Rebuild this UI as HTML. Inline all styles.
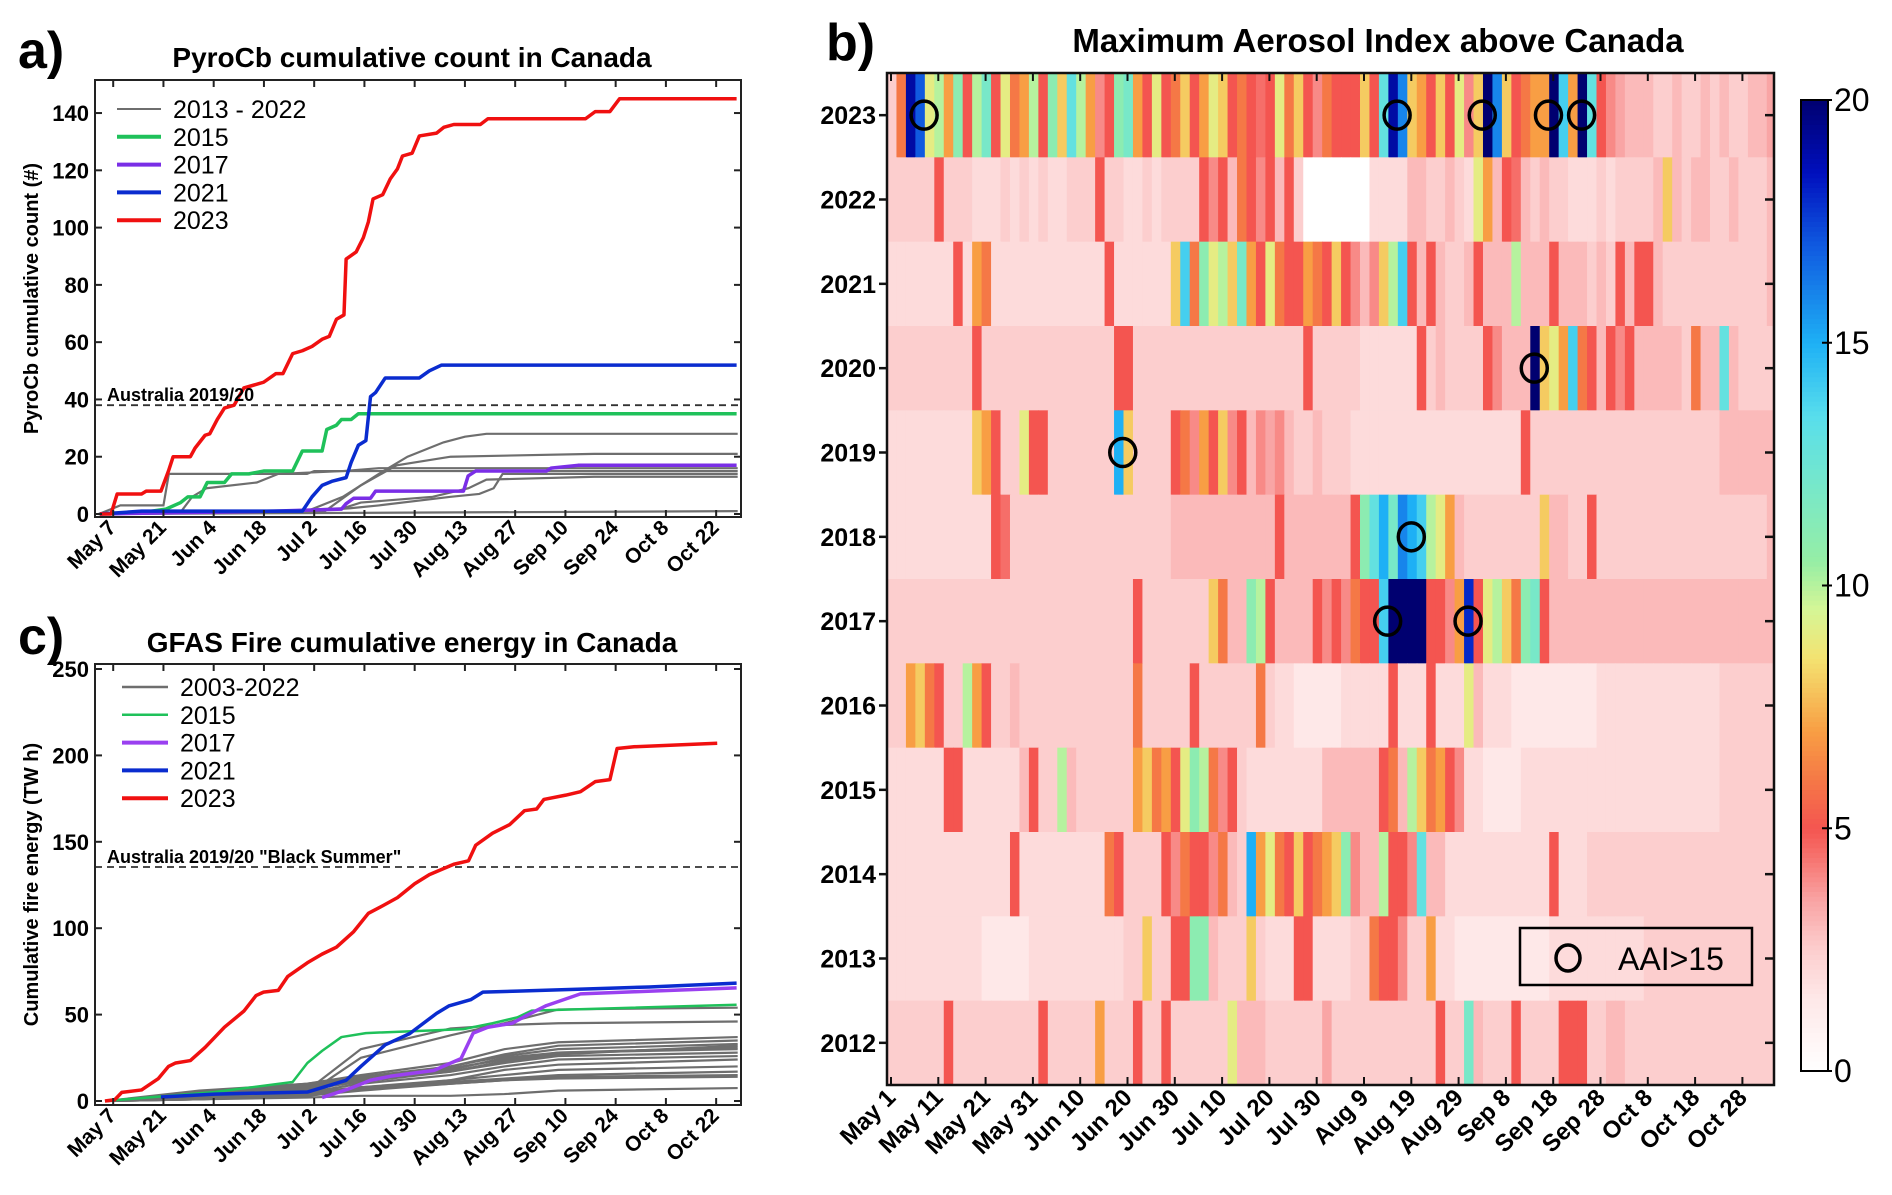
<!DOCTYPE html>
<html><head><meta charset="utf-8">
<style>
html,body{margin:0;padding:0;background:#fff;}
svg{display:block;font-family:"Liberation Sans",Arial,sans-serif;}
</style></head>
<body>
<svg id="fig" width="1892" height="1195" viewBox="0 0 1892 1195" xmlns="http://www.w3.org/2000/svg">
<rect x="0" y="0" width="1892" height="1195" fill="#fff"/>
<text x="18" y="68" font-size="52" font-weight="bold">a)</text>
<text x="412" y="67" font-size="28" font-weight="bold" text-anchor="middle">PyroCb cumulative count in Canada</text>
<text x="18" y="654" font-size="52" font-weight="bold">c)</text>
<text x="412" y="652" font-size="28" font-weight="bold" text-anchor="middle">GFAS Fire cumulative energy in Canada</text>
<text x="826" y="60" font-size="52" font-weight="bold">b)</text>
<text x="1378" y="52" font-size="33" font-weight="bold" text-anchor="middle">Maximum Aerosol Index above Canada</text>
<g id="pa"></g>
<g id="pc"></g>
<g id="pb"></g>
</svg>
<script>
// ---------- Panel a data ----------
const aYTicks = [0,20,40,60,80,100,120,140];
const dateTickLabels = ["May 7","May 21","Jun 4","Jun 18","Jul 2","Jul 16","Jul 30","Aug 13","Aug 27","Sep 10","Sep 24","Oct 8","Oct 22"];
const dateTickDays = [6,20,34,48,62,76,90,104,118,132,146,160,174];
const a2023Days = [2.3,5.4,7.1,13.9,15.2,19.3,21.4,22.7,27.5,28.8,31.6,32.9,35,37,39.7,42.4,47.9,51.3,53.3,56,58.7,61.4,64.2,66.2,68.2,70.3,70.9,73.7,75.7,77.1,78.4,81.1,83.2,85.2,86.6,89.3,91.3,96.1,98.1,100.9,108.3,110.4,137.6,140.3,144.4,147.1,179.7];
const a2023Vals = [0,0,7,7,8,8,15,20,20,23,27.5,28,33,37,38,44,46,49,49,56,57,58.5,61,62,68,69.5,89,91.5,96.5,102,110,111.5,117,120.5,125,126,132,133,135,136,136,138,138,140.5,140.5,145,145];
const a2021Days = [2.3,13.9,50.6,58.7,61.4,64.2,66.9,70.9,72.3,74.3,76.4,77.7,79.1,81.8,91.3,94.1,97.5,179.7];
const a2021Vals = [0,1,1,1,6,10,11.4,12.7,18,24,25.6,41,42.4,47.5,47.5,50,52,52];
const a2015Days = [2.3,13.9,20.7,24.8,26.8,30.2,32.2,37,39,43.8,47.9,56,58.7,64.2,65.5,68.2,69.6,72.3,74.3,179.7];
const a2015Vals = [0,0.5,1.7,4,6,6,11,11,14,14,15,15,22,22,29.5,31,33,33,35,35];
const a2017Days = [2.3,50.6,69.6,70.9,73,77.7,79.1,103.6,104.9,107,126.7,128,135.5,179.7];
const a2017Vals = [0,1,1.7,3.6,5.5,5.5,8,8,13.3,15,15,16,17,17];
const aGrayDays = [
 [2,8,20,21.5,60,62,180],
 [2,25,28,32,46,52,70,80,180],
 [2,60,70,80,88,92,98,104,110,180],
 [2,65,75,85,95,100,140,180],
 [2,50,70,75,95,105,110,140,180],
 [2,60,72,80,100,108,112,114.5,180],
 [2,180]];
const aGrayVals = [
 [0,3,3,14,14,15,15],
 [0,1,6,9,11,14,15,16,16],
 [0,1,6,14,20,22,25,27,28,28],
 [0,1,10,17,19,20,21,21],
 [0,1,2,4,6,9,12,13,13],
 [0,1,2,3,6,7,9,14,14],
 [0,1]];
// ---------- Panel c data ----------
const cYTicks = [0,50,100,150,200,250];
const c2023Days = [3.7,6.4,8.4,13.9,18.6,21.4,23.4,27.5,31.6,37,42.4,45.8,47.9,52,54.6,60.1,64.2,68.2,73,77.1,81.1,85.2,90,94.1,100.9,105,107,111.7,116.5,120.6,124,126,132.1,136.2,140.3,144.4,146.4,151.1,174.3];
const c2023Vals = [0,0.7,5,6.4,13,20,22,23.4,31,42.7,52,61,63,64,72,80,85,89,98,108.6,113,117.7,125.7,131,137,139,148,155,160,168,169,174.5,177,179,184.8,186,204,205,207];
const c2021Days = [19.3,34.3,60.1,65.5,70.9,75,81.8,88.6,96.1,99.5,105.6,109,118.6,137.6,155.3,179.7];
const c2021Vals = [2.3,4,5.2,8.6,12,20,32.5,39,50.7,55,58.6,63,63.6,64.8,66,68.2];
const c2015Days = [3.7,34.3,56,60.1,64.2,69.6,76.4,103.6,111.7,118.6,122.6,179.7];
const c2015Vals = [0,5.2,11,22,29,37,39.3,41.6,45,48.4,52.3,55.7];
const c2017Days = [64.2,72.3,77.7,83.2,95.4,102.9,106.3,110.4,117.2,121.2,126.7,136.2,151.2,179.7];
const c2017Vals = [2,7.5,12,14.3,17.7,24.5,39.3,42.7,45,49.5,55.2,62,63.2,65.5];
const cGrayDays = [4,30,60,75,100,115,130,180];
const cGrayVals = [
 [0,2,4,25,38,45,53,54],[0,3,6,30,42,44,45,46],[0,5,10,15,22,30,34,37],[0,4,9,14,20,27,32,35],
 [0,3,8,13,20,26,30,33],[0,6,10,14,19,24,28,31],[0,2,6,12,18,25,28,30],[0,3,7,11,17,22,26,28],
 [0,2,5,10,15,20,24,26],[0,1,4,8,12,15,18,20],[0,2,5,8,11,13,15,17],[0,1,3,6,10,12,14,15],
 [0,2,4,7,10,12,13,14],[0,1,2,3,3,4,6,7.5],[0,3,7,12,17,23,27,32],[0,1,3,7,12,18,21,24]];
// ---------- Panel b data ----------
const bYears = [2023,2022,2021,2020,2019,2018,2017,2016,2015,2014,2013,2012];
const bXTickLabels = ["May 1","May 11","May 21","May 31","Jun 10","Jun 20","Jun 30","Jul 10","Jul 20","Jul 30","Aug 9","Aug 19","Aug 29","Sep 8","Sep 18","Sep 28","Oct 8","Oct 18","Oct 28"];
const bCbTicks = [0,5,10,15,20];
const aai2023 = [2.5,6,19,17,9,10,7,11,5,10,12,5,9,6,7,10,5,11,8,13,10,7,4,5,11,12,7,5,9,5,6,8,5,7,9,8,5,6,5,4.5,5,9,6,8,5,4,6,5,5,5,8,5,13,19,16,8,7,5,8,5,9,4,8,20,16,8,5,6,7,7,20,14,7,20,13,5,4,3.5,3,3,3,2.5,2.5,3,2.5,2.5,3,2.5,3,2.5,2.5,3,3,3.5];
const aai2022 = [2.5,2.5,2.5,2.5,2.5,5,2.5,2.5,2.5,2,2,2,2.5,2,2.5,2,2.5,2,2,2.5,2.5,2.5,5,2.5,2.5,2,2,2.5,2,2.5,2.5,2.5,2.5,5,4,5,3,6,5,4,5,3,5,2.5,null,null,null,null,null,null,null,2,2,2,2,3,3,2.5,2.5,3,2.5,2,9,7,3,5,4.5,3,2.5,3,2.5,2.5,2,2,2,2.5,2,2.5,2.5,2.5,2.5,3,8,3,2.5,3,3,2.5,2.5,3,2.5,2.5,2.5,3];
const aai2021 = [2,2,2,2,2,2,2,5,2,7,6,2,2,2,2,2,2,2,2,2,2,2,2,5,2,2,2,2,2,2,8,14,6,11,9,10,8,12,7,5,9,6,5,5,7,6,5,8,5,4,3,4,8,10,14,5,3,5,3,2.5,2.5,3,5,3,3,3,10,3,3,3,5,3,3,3,2.5,3,2.5,5,3,5,5,3,2.5,2.5,2.5,2.5,2.5,2.5,2.5,2.5,2.5,2.5,2.5,3];
const aai2020 = [2.5,2.5,2.5,2.5,2.5,2.5,2.5,2.5,2.5,5,2.5,2.5,2.5,2.5,2.5,2.5,2.5,2.5,2.5,2.5,2.5,2.5,2.5,2.5,5,5,2.5,2.5,2.5,2.5,2.5,2.5,2.5,2.5,2.5,2.5,2.5,2.5,2.5,2.5,2.5,2.5,2.5,2.5,5,2.5,2.5,2.5,2.5,2.5,2,2,2,2,2,2,5,2.5,3,2.5,2.5,2.5,2.5,5,4,3,3,3,20,8,9,7,14,6,5,3,5,4,5,3,3,3,3,3,2.5,6,3,3,13,3,2.5,2.5,2.5,2.5];
const aai2019 = [2,2,2,2,2,2,2,2,2,8,7,5,2.5,2.5,9,5,5,2.5,2.5,2.5,2.5,2.5,2.5,2.5,15,8,2.5,2.5,2.5,2.5,5,6,4,7,5,8,4,5,3,4,3.5,4,3,2.5,2.5,3,2.5,2.5,2.5,2,2,2,2,2,2,2,2,2,2,2,2,2,2,2,2,2,2,5,2.5,2.5,2.5,2.5,2.5,2.5,2.5,2.5,2.5,2.5,2.5,2.5,2.5,2.5,2.5,2.5,2.5,2.5,2.5,2.5,3,3,3,3,3,3];
const aai2018 = [2,2,2,2,2,2,2,2,2,2,2,5,4.5,2.5,2.5,2.5,2.5,2.5,2.5,2.5,2.5,2.5,2.5,2.5,2.5,2.5,2.5,2.5,2.5,2.5,3,3,3,3,3,3,3,3,3,3,3,5,3,3,3,3,3,3,3,5,11,13,15,12,16,15,14,10,9,7,3,2.5,2.5,2.5,2.5,2.5,2.5,2.5,2.5,8,3,3,2.5,2.5,5,2.5,2.5,2.5,2.5,2.5,2.5,2.5,2.5,2.5,2.5,2.5,2.5,2.5,2.5,2.5,2.5,2.5,2.5,3];
const aai2017 = [2.5,2.5,2.5,2.5,2.5,2.5,2.5,2.5,2.5,2.5,2.5,2.5,2.5,2.5,2.5,2.5,2.5,2.5,2.5,2.5,2.5,2.5,2.5,2.5,2.5,2.5,5,2.5,2.5,2.5,2.5,2.5,2.5,2.5,8,6,3,3,11,10,5,3,3,3,3,5,4,5,4,6,5,5,14,20,20,20,20,5,5,4,7,18,5,9,10,8,6,11,12,5,3,3,3,3,3,3,3,3,3,3,3,3,3,3,3,3,3,3,3,3,3,3,3,3];
const aai2016 = [2.5,2.5,7,8,6,5,2.5,2.5,10,7,5,2.5,2.5,3,2.5,2.5,2.5,2.5,2.5,2.5,2.5,2.5,2.5,2.5,2.5,2.5,6,2.5,2.5,2.5,2.5,2.5,5,2.5,2.5,2.5,2.5,2.5,2.5,6,2.5,2,2,1.5,1.5,1.5,1.5,1.5,2,2,2,2,2,5,2,2,2,5,2,2,2,9,3,2,2,2,1.5,1.5,1.5,1.5,1.5,1.5,1.5,1.5,1.5,2,2,2,2,2,2,2,2,2,2,2,2,2,2.5,2.5,2.5,2.5,2.5,2.5];
const aai2015 = [2,2,2,2,2,2,5,5,2,2,2,2,2,2,3,5,2.5,2.5,10,3,2.5,2.5,2.5,2.5,2.5,2.5,7,8,6,7,5,9,11,10,6,4,5,2.5,2,2,2,2,2,2,2,2,3,3,3,3,3,3,5,6,3,10,8,6,7,5,4,2,2,1.5,1.5,1.5,1.5,2,2,2,2,2,2,2,2,2,2,2,2,2,2,2,2,2,2,2,2,2,2.5,2.5,2.5,2.5,2.5,2.5];
const aai2014 = [2,2,2,2,2,2,2,2,2,2,2,2,2,5,2,2,2,2,2,2,2,2,2,6,5,2.5,2.5,2.5,2.5,5,4,6,5,5,4,6,3,2.5,15,7,9,6,5,8,5,6,7,8,11,4,3,3,10,5,5,4,13,3,3,2,2,2,2,2,2,2,2,2,2,2,5,2,2,2,2.5,2.5,2.5,2.5,2.5,2.5,2.5,2.5,2.5,2.5,2.5,2.5,2.5,2.5,2.5,2.5,2.5,2.5,2.5,2.5];
const aai2013 = [2,2,2,2,2,2,2,2,2,2,1.5,1.5,1.5,1.5,1.5,2,2,2,2,2,2,2,2,2,2,2.5,2.5,8,2.5,2.5,5,5,11,11,3,2.5,2.5,2.5,8,2.5,2,2,2,5,5,2,2,2,2,2.5,2.5,6,5,5,4,2.5,2.5,7,2,2,1.5,1.5,1.5,1.5,1.5,1.5,1.5,1.5,1.5,1.5,2,2,2,2,2,2,2,2,2,2,2.5,2.5,2.5,2.5,2.5,2.5,2.5,2.5,2.5,2.5,2.5,2.5,2.5,2.5];
const aai2012 = [2.5,2.5,2.5,2.5,2.5,2.5,5,2.5,2.5,2.5,2.5,2.5,2.5,2.5,2.5,2.5,5,2.5,2.5,2.5,2.5,2.5,7,2.5,2.5,2.5,5,2.5,2.5,5,2.5,2.5,2.5,2.5,2.5,2.5,9,3,3,3,2.5,2.5,2.5,2.5,2.5,2.5,3.5,2.5,2.5,2.5,2.5,2.5,2.5,2.5,2.5,2.5,2.5,2.5,5,2.5,2.5,12,3,2.5,2.5,2.5,5,2.5,2.5,2.5,2.5,5,5,5,2.5,2.5,3,3,2.5,2.5,2.5,2.5,2.5,2.5,2.5,2.5,2.5,2.5,2.5,2.5,2.5,2.5,2.5,2.5];
const circleYears = [2023,2023,2023,2023,2023,2020,2019,2018,2017,2017];
const circleDays = [7,107,125,139,146,136,49,110,105,122];

const NS="http://www.w3.org/2000/svg";
function mk(tag, attrs, parent){const e=document.createElementNS(NS,tag);for(const k in attrs)e.setAttribute(k,attrs[k]);parent.appendChild(e);return e;}

// ---------- Line panels ----------
function linePanel(g, box, ymax, yTicks, yLabel, leg, ausVal, ausText, series, grays){
  const L=box.l,R=box.r,T=box.t,B=box.b;
  const y0=box.y0, ppu=box.ppu;
  const xs=d=>113.2+(d-6)*3.589;
  const ys=v=>y0-v*ppu;
  const clipId='clip'+g.id;
  const cp=mk('clipPath',{id:clipId},g); mk('rect',{x:L,y:T,width:R-L,height:B-T},cp);
  const plot=mk('g',{'clip-path':'url(#'+clipId+')'},g);
  grays.forEach((s,i)=>{
    const p=mk('polyline',{points:s.d.map((d,j)=>xs(d)+','+ys(s.v[j])).join(' '),fill:'none',stroke:'#6e6e6e','stroke-width':2.2},plot);
    
    
  });
  const dash=mk('line',{x1:L,x2:R,y1:ys(ausVal),y2:ys(ausVal),stroke:'#333','stroke-width':1.8,'stroke-dasharray':'7,5'},plot);
  
  
  const at=mk('text',{x:L+12,y:ys(ausVal)-4,'font-size':18,'font-weight':'bold'},g); at.textContent=ausText;
  
  
  series.forEach(s=>{
    const p=mk('polyline',{points:s.d.map((d,j)=>xs(d)+','+ys(s.v[j])).join(' '),fill:'none',stroke:s.c,'stroke-width':s.w,'stroke-linejoin':'round'},plot);
    
    
  });
  const fr=mk('rect',{x:L,y:T,width:R-L,height:B-T,fill:'none',stroke:'#222','stroke-width':2},g);
  
  
  yTicks.forEach(v=>{
    const y=ys(v);
    mk('line',{x1:L,x2:L+7,y1:y,y2:y,stroke:'#222','stroke-width':2},g);
    mk('line',{x1:R-7,x2:R,y1:y,y2:y,stroke:'#222','stroke-width':2},g);
    const t=mk('text',{x:L-6,y:y+8,'font-size':22,'font-weight':'bold','text-anchor':'end'},g); t.textContent=v;
    
    
  });
  dateTickDays.forEach((d,i)=>{
    const x=xs(d);
    mk('line',{x1:x,x2:x,y1:B,y2:B-7,stroke:'#222','stroke-width':2},g);
    mk('line',{x1:x,x2:x,y1:T,y2:T+7,stroke:'#222','stroke-width':2},g);
    const t=mk('text',{x:x+4,y:B+12,'font-size':21,'font-weight':'bold','text-anchor':'end',transform:'rotate(-45 '+(x+4)+' '+(B+12)+')'},g);
    t.textContent=dateTickLabels[i];
    
    
  });
  const yl=mk('text',{x:0,y:0,'font-size':20,'font-weight':'bold','text-anchor':'middle',transform:'translate(38 '+((T+B)/2)+') rotate(-90)'},g);
  yl.textContent=yLabel;
  
  
  leg.items.forEach((it,i)=>{
    const y=leg.y0+i*leg.dy;
    const ln=mk('line',{x1:leg.x1,x2:leg.x2,y1:y,y2:y,stroke:it.c,'stroke-width':it.w},g);
    
    
    const t=mk('text',{x:leg.tx,y:y+9,'font-size':25},g); t.textContent=it.t;
    
    
  });
}
const grayA=aGrayDays.map((d,i)=>({d:d,v:aGrayVals[i]}));
linePanel(document.getElementById('pa'),{l:95,r:741,t:80,b:517,y0:514,ppu:2.864},151,aYTicks,'PyroCb cumulative count (#)',
  {x1:117,x2:161,tx:173,y0:109,dy:27.8,items:[{t:'2013 - 2022',c:'#6e6e6e',w:2},{t:'2015',c:'#1fc15a',w:4},{t:'2017',c:'#7a2ee6',w:4},{t:'2021',c:'#0a2ccf',w:4},{t:'2023',c:'#f01010',w:4}]},
  38,'Australia 2019/20',
  [{n:'2015',d:a2015Days,v:a2015Vals,c:'#1fc15a',w:3.5},{n:'2017',d:a2017Days,v:a2017Vals,c:'#7a2ee6',w:3.5},{n:'2021',d:a2021Days,v:a2021Vals,c:'#0a2ccf',w:3.5},{n:'2023',d:a2023Days,v:a2023Vals,c:'#f01010',w:3.5}],grayA);
const grayC=cGrayVals.map(v=>({d:cGrayDays,v:v}));
linePanel(document.getElementById('pc'),{l:95,r:741,t:664,b:1105,y0:1101,ppu:1.728},253,cYTicks,'Cumulative fire energy (TW h)',
  {x1:122,x2:168,tx:180,y0:687,dy:27.8,items:[{t:'2003-2022',c:'#6e6e6e',w:2.5},{t:'2015',c:'#1fc15a',w:2.5},{t:'2017',c:'#9a40f0',w:4},{t:'2021',c:'#0a2ccf',w:4},{t:'2023',c:'#f01010',w:4}]},
  135.4,'Australia 2019/20 "Black Summer"',
  [{n:'2015',d:c2015Days,v:c2015Vals,c:'#1fc15a',w:2.5},{n:'2017',d:c2017Days,v:c2017Vals,c:'#9a40f0',w:3.5},{n:'2021',d:c2021Days,v:c2021Vals,c:'#0a2ccf',w:3.5},{n:'2023',d:c2023Days,v:c2023Vals,c:'#f01010',w:3.5}],grayC);

// ---------- Heatmap ----------
const stops=[[0,[255,255,255]],[1.5,[254,232,232]],[2.5,[252,206,206]],[3.5,[249,165,165]],[4.5,[246,110,105]],[5,[244,85,80]],[6,[245,120,70]],[7,[248,158,68]],[8.5,[244,226,112]],[9.5,[214,246,150]],[10.5,[150,238,165]],[12,[120,232,200]],[13.5,[88,222,236]],[15,[30,176,245]],[17,[16,90,224]],[18.5,[0,16,190]],[20,[0,0,112]]];
function cmap(v){
  if(v<=0)return 'rgb(255,255,255)';
  if(v>=20)return 'rgb(0,0,112)';
  for(let i=1;i<stops.length;i++){if(v<=stops[i][0]){const a=stops[i-1],b=stops[i],t=(v-a[0])/(b[0]-a[0]);
    return 'rgb('+a[1].map((c,k)=>Math.round(c+(b[1][k]-c)*t)).join(',')+')';}}
}
const bRows=[aai2023,aai2022,aai2021,aai2020,aai2019,aai2018,aai2017,aai2016,aai2015,aai2014,aai2013,aai2012];
(function(){
  const g=document.getElementById('pb');
  const L=887,R=1774,T=73,B=1085,rh=(B-T)/bYears.length;
  const xs=d=>891+d*4.73;
  const rowY=y=>T+bYears.indexOf(y)*rh;
  const cp=mk('clipPath',{id:'clipb'},g); mk('rect',{x:L,y:T,width:R-L,height:B-T},cp);
  const hm=mk('g',{'clip-path':'url(#clipb)'},g);
  bRows.forEach((row,r)=>{
    const y=rowY(bYears[r]);
    row.forEach((v,i)=>{
      const x0=i===0?L:xs(2*i)-4;
      const x1=xs(2*i+2)-4;
      const c=mk('rect',{x:x0,y:y,width:x1-x0+0.6,height:rh+0.5,fill:v===null?'#fff':cmap(v)},hm);
      
      
    });
  });
  circleYears.forEach((yr,i)=>{
    const c=mk('ellipse',{cx:xs(circleDays[i]),cy:rowY(yr)+rh/2,rx:13,ry:14,fill:'none',stroke:'#000','stroke-width':3.5},g);
    
    
  });
  const fr=mk('rect',{x:L,y:T,width:R-L,height:B-T,fill:'none',stroke:'#111','stroke-width':2.5},g);
  
  
  bYears.forEach((yr,i)=>{
    const cy=T+(i+0.5)*rh;
    mk('line',{x1:L-8,x2:L,y1:cy,y2:cy,stroke:'#111','stroke-width':2.5},g);
    mk('line',{x1:R-9,x2:R,y1:cy,y2:cy,stroke:'#111','stroke-width':2.5},g);
    const t=mk('text',{x:L-11,y:cy+9,'font-size':25,'font-weight':'bold','text-anchor':'end'},g); t.textContent=yr;
    
    
  });
  bXTickLabels.forEach((lab,i)=>{
    const x=xs(i*10);
    mk('line',{x1:x,x2:x,y1:B,y2:B-8,stroke:'#111','stroke-width':2},g);
    mk('line',{x1:x,x2:x,y1:T,y2:T+8,stroke:'#111','stroke-width':2},g);
    const t=mk('text',{x:x+6,y:B+14,'font-size':24,'font-weight':'bold','text-anchor':'end',transform:'rotate(-45 '+(x+6)+' '+(B+14)+')'},g);
    t.textContent=lab;
    
    
  });
  const lb=mk('rect',{x:1520,y:928,width:232,height:57,fill:'none',stroke:'#000','stroke-width':2.5},g);
  
  
  mk('ellipse',{cx:1568,cy:958,rx:12,ry:13,fill:'none',stroke:'#000','stroke-width':3.5},g);
  const lt=mk('text',{x:1618,y:970,'font-size':32},g); lt.textContent='AAI>15';
  
  
  const cbL=1801,cbR=1828,cbT=100,cbB=1071;
  const cs=v=>cbB-(v/20)*(cbB-cbT);
  for(let k=0;k<200;k++){
    const v0=k*0.1;
    mk('rect',{x:cbL,y:cs(v0+0.1),width:cbR-cbL,height:(cbB-cbT)/200+0.6,fill:cmap(v0+0.05)},g);
  }
  const cf=mk('rect',{x:cbL,y:cbT,width:cbR-cbL,height:cbB-cbT,fill:'none',stroke:'#000','stroke-width':2},g);
  
  
  bCbTicks.forEach(v=>{
    const y=cs(v);
    mk('line',{x1:cbR-6,x2:cbR+4,y1:y,y2:y,stroke:'#000','stroke-width':2},g);
    const t=mk('text',{x:cbR+6,y:y+11,'font-size':32},g); t.textContent=v;
    
    
  });
})();
</script>
</body></html>
